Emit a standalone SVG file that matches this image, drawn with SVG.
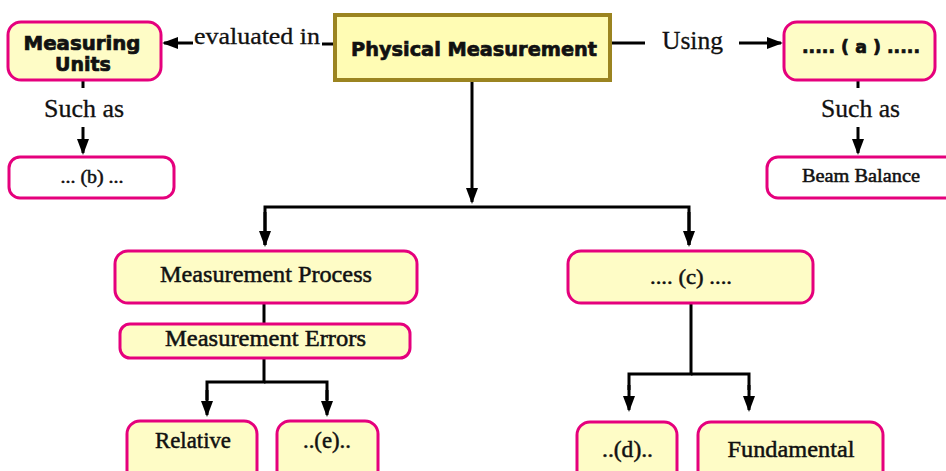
<svg xmlns="http://www.w3.org/2000/svg" width="946" height="471" viewBox="0 0 946 471">
<style>
.box{fill:#fefcc6;stroke:#e5007d;stroke-width:3}
.wbox{fill:#ffffff;stroke:#e5007d;stroke-width:3}
.main{fill:#fffcb4;stroke:#9b8420;stroke-width:4}
.heavy{font-family:"DejaVu Sans",sans-serif;font-weight:bold;fill:#111;stroke:#111;stroke-width:0.7;text-anchor:middle}
.serif{font-family:"Liberation Serif","Times New Roman",serif;fill:#111;stroke:#111;stroke-width:0.5;text-anchor:middle}
.lbl{font-family:"Liberation Serif","Times New Roman",serif;fill:#111;stroke:#111;stroke-width:0.3}
.ln{stroke:#000;stroke-width:3;fill:none}
</style>
<defs>
<marker id="ah" markerUnits="userSpaceOnUse" markerWidth="16" markerHeight="12" refX="14" refY="6" orient="auto">
<path d="M0,0 L16,6 L0,12 z" fill="#000"/>
</marker>
</defs>
<g id="connectors">
<line class="ln" x1="193" y1="43" x2="164" y2="43" marker-end="url(#ah)"/>
<line class="ln" x1="322" y1="44" x2="334" y2="44"/>
<line class="ln" x1="612" y1="43" x2="645" y2="43"/>
<line class="ln" x1="739" y1="43" x2="781" y2="43" marker-end="url(#ah)"/>
<line class="ln" x1="83" y1="80" x2="83" y2="88"/>
<line class="ln" x1="83" y1="127" x2="83" y2="153" marker-end="url(#ah)"/>
<line class="ln" x1="858" y1="80" x2="858" y2="88"/>
<line class="ln" x1="858" y1="127" x2="858" y2="153" marker-end="url(#ah)"/>
<line class="ln" x1="472" y1="82" x2="472" y2="202" marker-end="url(#ah)"/>
<polyline class="ln" points="265,245 265,207 689,207 689,245"/>
<line class="ln" x1="265" y1="212" x2="265" y2="245" marker-end="url(#ah)"/>
<line class="ln" x1="689" y1="212" x2="689" y2="245" marker-end="url(#ah)"/>
<line class="ln" x1="264" y1="304" x2="264" y2="323"/>
<polyline class="ln" points="264,359 264,382 207,382 207,400"/>
<polyline class="ln" points="264,382 327,382 327,400"/>
<line class="ln" x1="207" y1="390" x2="207" y2="415" marker-end="url(#ah)"/>
<line class="ln" x1="327" y1="390" x2="327" y2="415" marker-end="url(#ah)"/>
<polyline class="ln" points="691,304 691,374 629,374 629,390"/>
<polyline class="ln" points="691,374 749,374 749,390"/>
<line class="ln" x1="629" y1="385" x2="629" y2="410" marker-end="url(#ah)"/>
<line class="ln" x1="749" y1="385" x2="749" y2="410" marker-end="url(#ah)"/>
<text class="lbl" x="194" y="44" font-size="24" textLength="126" lengthAdjust="spacingAndGlyphs">evaluated in</text>
<text class="lbl" x="662" y="49" font-size="25" textLength="61" lengthAdjust="spacingAndGlyphs">Using</text>
<text class="lbl" x="44" y="117" font-size="25" textLength="80" lengthAdjust="spacingAndGlyphs">Such as</text>
<text class="lbl" x="821" y="117" font-size="25" textLength="79" lengthAdjust="spacingAndGlyphs">Such as</text>
</g>
<g id="node-measuring-units">
<rect class="box" x="8" y="22" width="153" height="58" rx="13"/>
<text class="heavy" x="82" y="50" font-size="19" textLength="117" lengthAdjust="spacingAndGlyphs">Measuring</text>
<text class="heavy" x="83" y="71" font-size="19">Units</text>
</g>
<g id="node-physical-measurement">
<rect class="main" x="335" y="15" width="275" height="65"/>
<text class="heavy" x="474" y="56" font-size="19.5" textLength="246" lengthAdjust="spacingAndGlyphs">Physical Measurement</text>
</g>
<g id="node-a">
<rect class="box" x="784" y="22" width="151" height="58" rx="13"/>
<text class="heavy" x="861" y="53" font-size="17" textLength="118" lengthAdjust="spacingAndGlyphs">..... ( a ) .....</text>
</g>
<g id="node-b">
<rect class="wbox" x="9" y="157" width="165" height="41" rx="11"/>
<text class="serif" x="92" y="183" font-size="18" textLength="63" lengthAdjust="spacingAndGlyphs">... (b) ...</text>
</g>
<g id="node-beam-balance">
<rect class="wbox" x="767" y="157" width="200" height="41" rx="11"/>
<text class="serif" x="861" y="182" font-size="19" textLength="118" lengthAdjust="spacingAndGlyphs">Beam Balance</text>
</g>
<g id="node-measurement-process">
<rect class="box" x="115" y="251" width="302" height="52" rx="13"/>
<text class="serif" x="266" y="282" font-size="24" textLength="212" lengthAdjust="spacingAndGlyphs">Measurement Process</text>
</g>
<g id="node-measurement-errors">
<rect class="box" x="120" y="324" width="290" height="34" rx="10"/>
<text class="serif" x="265.5" y="346" font-size="23" textLength="201" lengthAdjust="spacingAndGlyphs">Measurement Errors</text>
</g>
<g id="node-c">
<rect class="box" x="568" y="251" width="245" height="52" rx="13"/>
<text class="serif" x="691" y="284" font-size="22" textLength="82" lengthAdjust="spacingAndGlyphs">.... (c) ....</text>
</g>
<g id="node-relative">
<rect class="box" x="127" y="421" width="130" height="62" rx="13"/>
<text class="serif" x="193" y="448" font-size="23" textLength="76" lengthAdjust="spacingAndGlyphs">Relative</text>
</g>
<g id="node-e">
<rect class="box" x="277" y="421" width="101" height="62" rx="13"/>
<text class="serif" x="327" y="448" font-size="23" textLength="48" lengthAdjust="spacingAndGlyphs">..(e)..</text>
</g>
<g id="node-d">
<rect class="box" x="577" y="422" width="100" height="62" rx="13"/>
<text class="serif" x="627.5" y="457" font-size="23" textLength="51" lengthAdjust="spacingAndGlyphs">..(d)..</text>
</g>
<g id="node-fundamental">
<rect class="box" x="698" y="422" width="185" height="62" rx="13"/>
<text class="serif" x="791" y="457" font-size="24" textLength="127" lengthAdjust="spacingAndGlyphs">Fundamental</text>
</g>
</svg>
